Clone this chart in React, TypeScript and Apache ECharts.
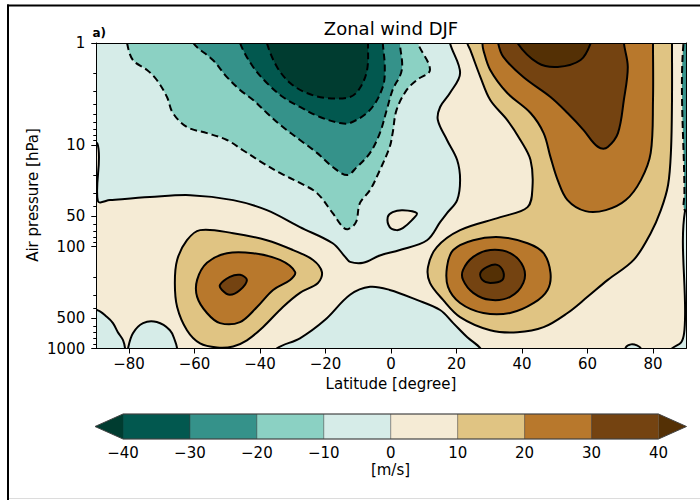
import { useEffect, useRef } from "react";
import * as echarts from "echarts";

type Pt = [number, number]; // [latitude in degrees, pressure in hPa]

const FONT = "DejaVu Sans";

// Contour bins: lower bound (m/s) and fill colour (BrBG, teal = easterly, brown = westerly)
const binLower = [-50, -40, -30, -20, -10, 0, 10, 20, 30, 40];
const binColors = [
  "#003c30", "#02584f", "#35928a", "#8bd1c3", "#d6ece8",
  "#f5ebd5", "#e0c483", "#b8782c", "#744311", "#543005",
];

// Colour bar levels (m/s)
const cbLevels = [-40, -30, -20, -10, 0, 10, 20, 30, 40];

// Axis ticks
const latTicks = [-80, -60, -40, -20, 0, 20, 40, 60, 80];
const presTicks = [1, 10, 50, 100, 500, 1000];
const presMinorTicks = [2, 3, 4, 5, 6, 7, 8, 9, 20, 30, 40, 60, 70, 80, 90, 200, 300, 400, 600, 700, 800, 900];

// ---- contour regions, [lat, hPa]; vertices beyond the frame are clipped ----
const domain: Pt[] = [[-95, 0.8], [95, 0.8], [95, 1200], [-95, 1200]];

// 0 m/s contour enclosing the stratospheric easterlies
const stratEasterly0: Pt[] = [
  [-95, 0.8], [18.0, 0.8], [18.0, 1.0], [21.1, 1.97], [18.0, 3.1], [15.0, 4.25], [14.3, 5.71],
  [17.1, 8.96], [20.2, 14.1], [21.1, 22.2], [20.2, 34.9], [17.1, 46.9], [15.0, 57.5], [11.0, 86.4],
  [2.7, 108], [-3.4, 122], [-8.5, 144], [-12.5, 141], [-14.0, 126], [-17.8, 92.6], [-27.8, 64.3],
  [-37.9, 43.8], [-48.2, 34.9], [-61.3, 31.2], [-73.6, 32.6], [-85.8, 34.9], [-89.5, 35.7],
  [-89.6, 9.8], [-95, 9.4],
];
const equatorIsland0: Pt[] = [
  [-1.0, 51.3], [0.5, 45.8], [3.6, 43.8], [7.9, 46.9], [6.4, 54.9], [3.6, 65.8], [1.7, 68.8], [-0.4, 64.3],
];
const antarcticSurface0: Pt[] = [
  [-95, 1200], [-95, 419], [-89.8, 419], [-86.7, 491], [-84.9, 563], [-83.4, 692], [-81.8, 831],
  [-81.2, 998], [-81.1, 1200],
];
const antarcticBump0: Pt[] = [
  [-80.4, 1200], [-80.3, 998], [-78.8, 708], [-75.7, 563], [-71.5, 550], [-67.5, 661], [-66.0, 831],
  [-65.3, 998], [-65.2, 1200],
];
const tropicalSurface0: Pt[] = [
  [-35.0, 1200], [-34.8, 998], [-27.8, 794], [-20.2, 526], [-12.5, 297], [-6.4, 248], [-0.4, 266],
  [7.9, 333], [15.0, 419], [19.0, 563], [23.3, 776], [27.3, 998], [27.5, 1200],
];
const arcticSurface0: Pt[] = [
  [84.6, 1200], [85.8, 1000], [88.6, 870], [89.5, 708], [89.8, 448], [89.8, 44], [95, 44], [95, 1200],
];
const arcticBlob0: Pt[] = [[71.5, 1200], [71.7, 976], [73.3, 911], [75.1, 932], [76.3, 998], [76.5, 1200]];

// dashed easterly contours
const easterly10: Pt[] = [
  [-80.6, 0.8], [-80.6, 1.0], [-78.8, 1.47], [-74.5, 1.84], [-71.5, 2.31], [-68.4, 3.39], [-66.6, 4.87],
  [-62.3, 6.69], [-56.2, 7.67], [-50.1, 8.96], [-45.2, 11.3], [-39.1, 15.1], [-33.9, 18.9], [-27.8, 23.7],
  [-22.6, 29.8], [-17.8, 46.9], [-14.7, 64.3], [-13.1, 67.3], [-10.7, 57.5], [-9.5, 37.4], [-6.4, 27.8],
  [-3.4, 17.7], [-0.4, 10.5], [0.5, 7.67], [1.7, 4.54], [4.8, 2.89], [7.9, 2.31], [11.9, 1.84],
  [8.2, 1.0], [8.2, 0.8],
];
const easterly20: Pt[] = [
  [-60.4, 0.8], [-60.4, 1.0], [-54.4, 1.47], [-50.1, 2.16], [-46.1, 2.89], [-42.1, 3.63], [-37.9, 4.87],
  [-33.0, 6.69], [-27.8, 8.96], [-22.6, 12.0], [-17.8, 16.5], [-13.4, 19.8], [-10.4, 16.5], [-6.4, 12.0],
  [-3.4, 7.67], [-1.3, 4.54], [0.5, 2.89], [3.3, 1.84], [2.7, 1.0], [2.7, 0.8],
];
const easterly30: Pt[] = [
  [-46.1, 0.8], [-46.1, 1.0], [-42.1, 1.72], [-37.9, 2.47], [-33.0, 3.39], [-27.8, 4.25], [-21.7, 5.33],
  [-15.6, 6.11], [-12.5, 6.11], [-6.4, 4.54], [-2.5, 2.7], [-1.9, 1.72], [-2.5, 1.0], [-2.5, 0.8],
];
const easterly40: Pt[] = [
  [-37.9, 0.8], [-37.9, 1.0], [-34.8, 1.72], [-30.8, 2.47], [-25.7, 3.1], [-19.6, 3.47], [-12.5, 3.39],
  [-9.5, 2.77], [-7.3, 1.84], [-7.0, 1.0], [-7.0, 0.8],
];
const poleStripe: Pt[] = [[89.6, 0.8], [89.6, 30], [89.8, 44], [95, 44], [95, 0.8]];

// westerly contours
const northWest10: Pt[] = [
  [23.3, 0.8], [23.3, 1.0], [24.2, 1.17], [27.3, 2.16], [30.3, 3.63], [35.5, 5.71], [39.5, 8.96],
  [42.6, 14.1], [43.2, 26.0], [41.7, 40.9], [33.4, 51.3], [21.1, 68.8], [14.0, 101], [11.3, 158],
  [11.9, 227], [15.9, 333], [21.1, 491], [30.3, 661], [38.6, 692], [46.6, 617], [53.9, 448],
  [60.0, 311], [66.2, 212], [74.1, 135], [79.3, 73.7], [82.4, 43.8], [84.6, 24.8], [85.5, 11.3],
  [85.8, 3.63], [85.8, 1.0], [85.8, 0.8],
];
const southJet10: Pt[] = [
  [-58.3, 68.8], [-48.2, 73.7], [-37.9, 86.4], [-29.9, 108], [-23.8, 135], [-21.1, 177], [-22.3, 227],
  [-27.8, 284], [-33.0, 391], [-39.1, 617], [-44.0, 831], [-48.2, 954], [-53.1, 976], [-58.3, 891],
  [-62.3, 661], [-65.3, 391], [-66.0, 227], [-65.3, 135], [-62.3, 86.4],
];
const polarVortex20: Pt[] = [
  [27.9, 0.8], [27.9, 1.0], [28.2, 1.17], [30.3, 1.84], [35.5, 3.1], [42.6, 4.87], [46.6, 7.67],
  [48.7, 13.2], [50.9, 22.2], [53.9, 34.9], [59.4, 44.8], [65.6, 43.8], [71.7, 34.9], [76.3, 22.2],
  [79.3, 12.0], [80.0, 3.63], [80.0, 1.0], [80.0, 0.8],
];
const northJet20: Pt[] = [
  [17.1, 158], [19.0, 108], [25.1, 86.4], [33.4, 80.7], [41.7, 92.6], [46.6, 116], [48.7, 181],
  [47.8, 266], [43.6, 357], [36.4, 448], [28.2, 448], [21.1, 357], [17.4, 248],
];
const southJet20: Pt[] = [
  [-59.2, 212], [-56.2, 144], [-50.1, 116], [-42.1, 116], [-33.9, 135], [-29.3, 177], [-30.8, 212],
  [-36.0, 266], [-40.9, 391], [-46.1, 550], [-52.2, 563], [-56.2, 448], [-59.2, 311],
];
const polarVortex30: Pt[] = [
  [32.7, 0.8], [32.7, 1.0], [34.3, 1.37], [40.4, 2.16], [48.7, 3.39], [53.9, 4.87], [58.8, 7.16],
  [61.9, 9.6], [64.0, 10.8], [66.2, 10.5], [69.3, 7.67], [71.1, 3.63], [72.3, 1.72], [71.1, 1.0], [71.1, 0.8],
];
const northJet30: Pt[] = [
  [22.0, 169], [25.1, 126], [30.3, 108], [36.4, 116], [40.4, 158], [40.4, 227], [36.4, 311],
  [30.3, 333], [25.1, 284], [22.0, 212],
];
const southJet30: Pt[] = [
  [-52.2, 237], [-49.2, 198], [-46.1, 189], [-44.0, 212], [-46.1, 266], [-49.2, 297], [-51.6, 266],
];
const polarVortex40: Pt[] = [
  [38.6, 0.8], [38.6, 1.0], [44.8, 1.57], [50.9, 1.72], [57.9, 1.47], [61.0, 1.0], [61.0, 0.8],
];
const northJet40: Pt[] = [
  [27.3, 181], [29.4, 158], [32.4, 151], [34.3, 177], [34.0, 212], [30.3, 227], [27.9, 212],
];

type Line = "none" | "solid" | "dashed";
const layers: { bin: number; pts: Pt[]; line: Line }[] = [
  { bin: 0, pts: domain, line: "none" },
  { bin: -10, pts: stratEasterly0, line: "solid" },
  { bin: 0, pts: equatorIsland0, line: "solid" },
  { bin: -10, pts: antarcticSurface0, line: "solid" },
  { bin: -10, pts: antarcticBump0, line: "solid" },
  { bin: -10, pts: tropicalSurface0, line: "solid" },
  { bin: -10, pts: arcticSurface0, line: "solid" },
  { bin: -10, pts: arcticBlob0, line: "solid" },
  { bin: -20, pts: easterly10, line: "dashed" },
  { bin: -30, pts: easterly20, line: "dashed" },
  { bin: -40, pts: easterly30, line: "dashed" },
  { bin: -50, pts: easterly40, line: "dashed" },
  { bin: -30, pts: poleStripe, line: "dashed" },
  { bin: 10, pts: northWest10, line: "solid" },
  { bin: 10, pts: southJet10, line: "solid" },
  { bin: 20, pts: polarVortex20, line: "solid" },
  { bin: 20, pts: northJet20, line: "solid" },
  { bin: 20, pts: southJet20, line: "solid" },
  { bin: 30, pts: polarVortex30, line: "solid" },
  { bin: 30, pts: northJet30, line: "solid" },
  { bin: 30, pts: southJet30, line: "solid" },
  { bin: 40, pts: polarVortex40, line: "solid" },
  { bin: 40, pts: northJet40, line: "solid" },
];

const colorOf = (lower: number) => binColors[binLower.indexOf(lower)];
const signed = (v: number) => (v < 0 ? "\u2212" + Math.abs(v) : String(v));

const axisBlack = { color: "#000", width: 1 };
const tickFont = { fontFamily: FONT, fontSize: 15, color: "#000" };

export default function App() {
  const ref = useRef<HTMLDivElement>(null);

  useEffect(() => {
    if (!ref.current) return;
    const chart = echarts.init(ref.current, null, { renderer: "svg" });

    const option: any = {
      animation: false,
      backgroundColor: "#ffffff",
      textStyle: { fontFamily: FONT },
      grid: [
        { left: 96.25, top: 43, width: 589.5, height: 305.5, containLabel: false, outerBoundsMode: "none" },
        { left: 123, top: 414, width: 535.5, height: 25, containLabel: false, outerBoundsMode: "none" },
      ],
      xAxis: [
        {
          gridIndex: 0, type: "value", min: -90, max: 90, position: "bottom", z: 10,
          axisLine: { show: true, onZero: false, lineStyle: axisBlack },
          axisTick: { show: true, length: 5, customValues: latTicks, lineStyle: axisBlack },
          axisLabel: { customValues: latTicks, formatter: signed, margin: 8, ...tickFont },
          splitLine: { show: false },
        },
        {
          gridIndex: 0, type: "value", min: -90, max: 90, position: "top", z: 10,
          axisLine: { show: true, onZero: false, lineStyle: axisBlack },
          axisTick: { show: false }, axisLabel: { show: false }, splitLine: { show: false },
        },
        {
          gridIndex: 1, type: "value", min: -40, max: 40, interval: 10, position: "bottom",
          axisLine: { show: false, onZero: false }, axisTick: { show: false },
          axisLabel: { formatter: signed, margin: 6, ...tickFont },
          splitLine: { show: false },
        },
      ],
      yAxis: [
        {
          gridIndex: 0, type: "value", min: 0, max: 3, inverse: true, position: "left", z: 10,
          axisLine: { show: true, onZero: false, lineStyle: axisBlack },
          axisTick: { show: true, length: 5, customValues: presTicks.map(Math.log10), lineStyle: axisBlack },
          axisLabel: {
            customValues: presTicks.map(Math.log10),
            formatter: (v: number) => String(Math.round(Math.pow(10, v))),
            margin: 11, ...tickFont,
          },
          splitLine: { show: false },
        },
        {
          gridIndex: 0, type: "value", min: 0, max: 3, inverse: true, position: "left", z: 10,
          axisLine: { show: false, onZero: false },
          axisTick: { show: true, length: 3, customValues: presMinorTicks.map(Math.log10), lineStyle: axisBlack },
          axisLabel: { show: false }, splitLine: { show: false },
        },
        {
          gridIndex: 0, type: "value", min: 0, max: 3, inverse: true, position: "right", z: 10,
          axisLine: { show: true, onZero: false, lineStyle: axisBlack },
          axisTick: { show: false }, axisLabel: { show: false }, splitLine: { show: false },
        },
        {
          gridIndex: 1, type: "value", min: 0, max: 1, show: false,
        },
      ],
      series: [
        {
          type: "custom",
          xAxisIndex: 0,
          yAxisIndex: 0,
          clip: true,
          data: layers.map((_, i) => [i, 0]),
          renderItem: (params: any, api: any) => {
            const layer = layers[params.dataIndex];
            const points = layer.pts.map(([lat, p]) => api.coord([lat, Math.log10(p)]));
            return {
              type: "polygon",
              z2: params.dataIndex,
              shape: { points, smooth: layer.line === "none" ? 0 : 0.35 },
              style: {
                fill: colorOf(layer.bin),
                stroke: layer.line === "none" ? "none" : "#000",
                lineWidth: 2,
                lineDash: layer.line === "dashed" ? [7, 4] : null,
              },
            };
          },
        },
        {
          type: "custom",
          xAxisIndex: 2,
          yAxisIndex: 3,
          data: cbLevels.slice(0, -1).map((lo, i) => [lo, cbLevels[i + 1]]),
          renderItem: (params: any, api: any) => {
            const a = api.coord([api.value(0), 1]);
            const b = api.coord([api.value(1), 0]);
            return {
              type: "rect",
              shape: { x: a[0], y: a[1], width: b[0] - a[0], height: b[1] - a[1] },
              style: { fill: colorOf(api.value(0)), stroke: "rgba(40,40,40,0.45)", lineWidth: 0.8 },
            };
          },
        },
        {
          type: "custom",
          xAxisIndex: 2,
          yAxisIndex: 3,
          clip: false,
          data: [[cbLevels[0], cbLevels[cbLevels.length - 1]]],
          renderItem: (params: any, api: any) => {
            const tl = api.coord([api.value(0), 1]);
            const bl = api.coord([api.value(0), 0]);
            const tr = api.coord([api.value(1), 1]);
            const br = api.coord([api.value(1), 0]);
            const mid = (tl[1] + bl[1]) / 2;
            const tip = 28;
            return {
              type: "group",
              children: [
                { type: "polygon", shape: { points: [tl, bl, [tl[0] - tip, mid]] }, style: { fill: binColors[0] } },
                { type: "polygon", shape: { points: [tr, br, [tr[0] + tip, mid]] }, style: { fill: binColors[binColors.length - 1] } },
                {
                  type: "polygon",
                  shape: { points: [tl, tr, [tr[0] + tip, mid], br, bl, [tl[0] - tip, mid]] },
                  style: { fill: "none", stroke: "#444", lineWidth: 1 },
                },
              ],
            };
          },
        },
      ],
      graphic: [
        { type: "rect", shape: { x: 7, y: 4.5, width: 693, height: 2 }, style: { fill: "#000" } },
        { type: "rect", shape: { x: 7, y: 4.5, width: 2, height: 496 }, style: { fill: "#000" } },
        { type: "rect", shape: { x: 9, y: 498, width: 691, height: 1 }, style: { fill: "#dcdcdc" } },
        {
          type: "text", x: 391, y: 28,
          style: {
            text: "Zonal wind DJF", font: `18px "${FONT}"`, fill: "#000",
            textAlign: "center", textVerticalAlign: "middle", align: "center", verticalAlign: "middle",
          },
        },
        {
          type: "text", x: 92.5, y: 33,
          style: {
            text: "a)", font: `bold 12px "${FONT}"`, fill: "#000",
            textAlign: "left", textVerticalAlign: "middle", align: "left", verticalAlign: "middle",
          },
        },
        {
          type: "text", x: 32.5, y: 195, rotation: Math.PI / 2,
          style: {
            text: "Air pressure [hPa]", font: `15px "${FONT}"`, fill: "#000",
            textAlign: "center", textVerticalAlign: "middle", align: "center", verticalAlign: "middle",
          },
        },
        {
          type: "text", x: 391, y: 384,
          style: {
            text: "Latitude [degree]", font: `15px "${FONT}"`, fill: "#000",
            textAlign: "center", textVerticalAlign: "middle", align: "center", verticalAlign: "middle",
          },
        },
        {
          type: "text", x: 390.5, y: 470,
          style: {
            text: "[m/s]", font: `15px "${FONT}"`, fill: "#000",
            textAlign: "center", textVerticalAlign: "middle", align: "center", verticalAlign: "middle",
          },
        },
      ],
    };

    chart.setOption(option);
    return () => chart.dispose();
  }, []);

  return (
    <div
      ref={ref}
      style={{ position: "fixed", left: 0, top: 0, width: 700, height: 500, background: "#fff" }}
    />
  );
}
